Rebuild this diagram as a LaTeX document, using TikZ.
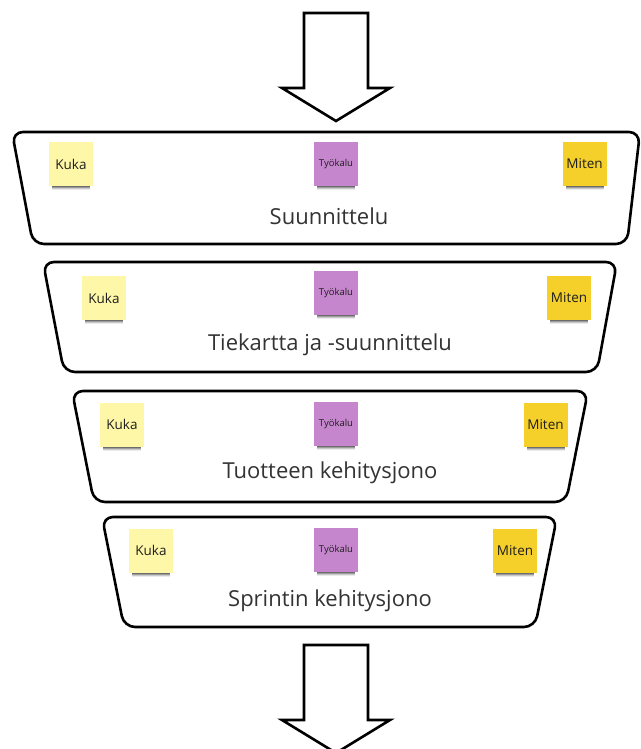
\documentclass[tikz,border=0pt]{standalone}
\usepackage{fontspec}
\setmainfont{Open Sans}
\definecolor{kukacol}{HTML}{FFF7A8}
\definecolor{toolcol}{HTML}{C686CD}
\definecolor{mitencol}{HTML}{F5CF2A}
\definecolor{labelcol}{HTML}{333333}
\tikzset{
  stagebox/.style={draw=black, line width=2.6pt, rounded corners=11pt, fill=white},
  bigarrow/.style={draw=black, line width=2.6pt, fill=white, line join=miter},
  sticky/.style={minimum width=44pt, minimum height=44pt, inner sep=0pt, text=black!88},
  kuka/.style={sticky, fill=kukacol, font=\fontsize{13.5}{13.5}\selectfont},
  tool/.style={sticky, fill=toolcol, font=\fontsize{9.5}{9.5}\selectfont},
  miten/.style={sticky, fill=mitencol, font=\fontsize{13.5}{13.5}\selectfont},
  stagelabel/.style={text=labelcol, font=\fontsize{22}{22}\selectfont},
}
\begin{document}
\begin{tikzpicture}[x=1pt,y=-1pt]
\useasboundingbox (0,0) rectangle (640,749);

% incoming arrow
\draw[bigarrow] (304,13) -- (368,13) -- (368,88) -- (390,88) -- (336,121)
  -- (282,88) -- (304,88) -- cycle;

% four stages, each narrower than the one above
\draw[stagebox] (12,132) -- (640,132) -- (627,244) -- (33,244) -- cycle;
\draw[stagebox] (43,262) -- (617,262) -- (597,372) -- (64,372) -- cycle;
\draw[stagebox] (72,391) -- (588,391) -- (566,502) -- (94,502) -- cycle;
\draw[stagebox] (102,517) -- (557,517) -- (535,627) -- (124,627) -- cycle;

% soft shadows under the notes
\foreach \cx/\cy in {71/164,336/164,584.5/164,
                     104/298,336/293,569/298,
                     122/424.5,336/424,545.5/424.5,
                     151/550.5,336/550,515/550.5}{
  \foreach \k/\o in {4/0.08,3/0.14,2/0.22,1/0.30}{
    \fill[black, opacity=\o]
      (\cx-19,\cy+22.5-\k*0.3) rectangle (\cx+19,\cy+22.5+\k*0.9);
  }
}

% stage 1
\node[kuka]  (k1) at (71,164)    {Kuka};
\node[tool]  (t1) at (336,164)   {Työkalu};
\node[miten] (m1) at (584.5,164) {Miten};
\node[stagelabel] (s1) at (329,216) {Suunnittelu};

% stage 2
\node[kuka]  (k2) at (104,298)   {Kuka};
\node[tool]  (t2) at (336,293)   {Työkalu};
\node[miten] (m2) at (569,298)   {Miten};
\node[stagelabel] (s2) at (330,345) {Tiekartta ja -suunnittelu};

% stage 3
\node[kuka]  (k3) at (122,424.5) {Kuka};
\node[tool]  (t3) at (336,424)   {Työkalu};
\node[miten] (m3) at (545.5,424.5) {Miten};
\node[stagelabel] (s3) at (330,473) {Tuotteen kehitysjono};

% stage 4
\node[kuka]  (k4) at (151,550.5) {Kuka};
\node[tool]  (t4) at (336,550)   {Työkalu};
\node[miten] (m4) at (515,550.5) {Miten};
\node[stagelabel] (s4) at (330,601) {Sprintin kehitysjono};

% outgoing arrow
\draw[bigarrow] (304,645) -- (368,645) -- (368,720) -- (390,720) -- (336,753)
  -- (282,720) -- (304,720) -- cycle;
\end{tikzpicture}
\end{document}
